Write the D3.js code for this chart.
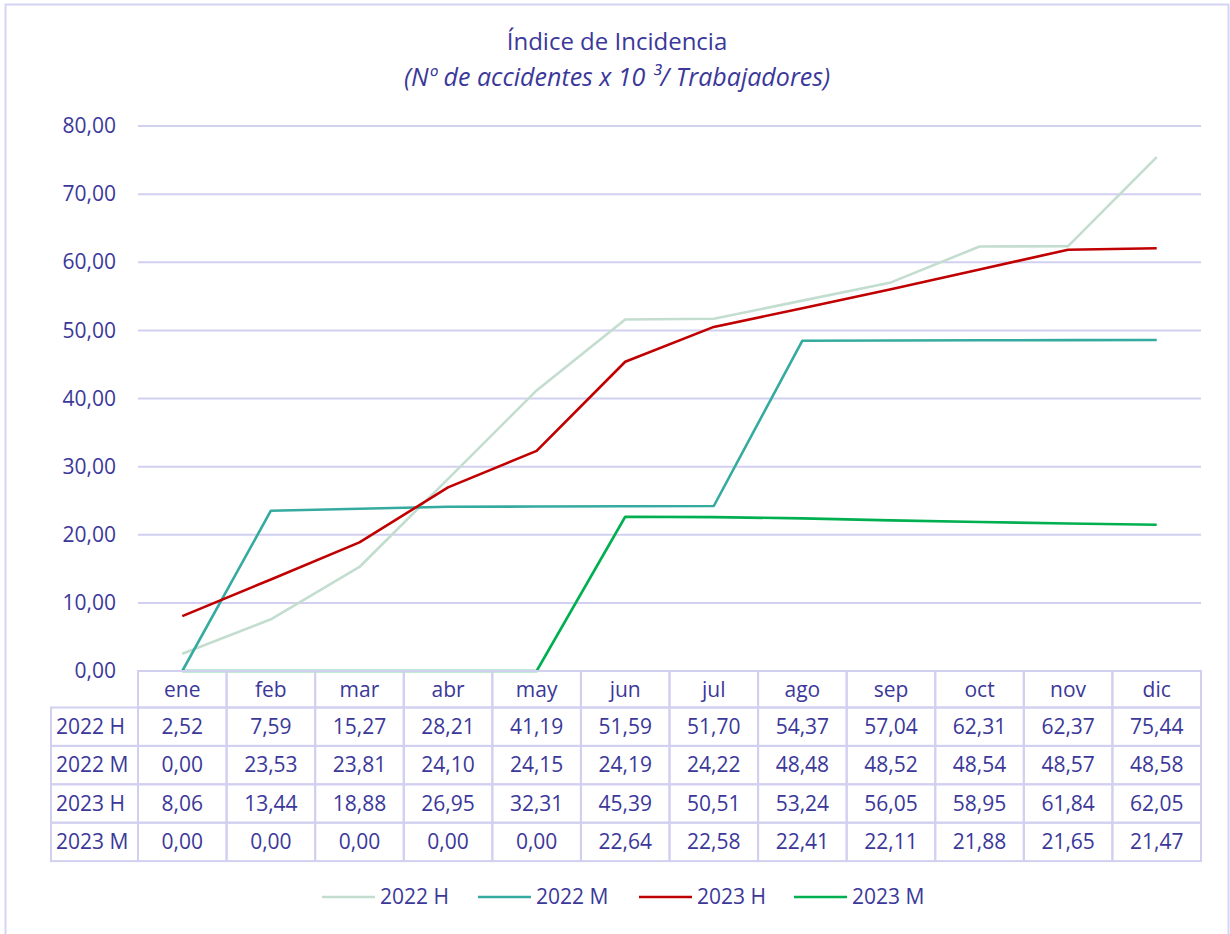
<!DOCTYPE html>
<html><head><meta charset="utf-8">
<script src="https://cdn.jsdelivr.net/npm/d3@7"></script>
<style>body{margin:0;background:#fff}svg{display:block}</style>
</head><body>
<svg id="c" width="1230" height="934"></svg>
<script>
const months = ["ene","feb","mar","abr","may","jun","jul","ago","sep","oct","nov","dic"];
const seriesNames = ["2022 H","2022 M","2023 H","2023 M"];
const s2022H = [2.52,7.59,15.27,28.21,41.19,51.59,51.70,54.37,57.04,62.31,62.37,75.44];
const s2022M = [0.00,23.53,23.81,24.10,24.15,24.19,24.22,48.48,48.52,48.54,48.57,48.58];
const s2023H = [8.06,13.44,18.88,26.95,32.31,45.39,50.51,53.24,56.05,58.95,61.84,62.05];
const s2023M = [0.00,0.00,0.00,0.00,0.00,22.64,22.58,22.41,22.11,21.88,21.65,21.47];
const yTicks = [0,10,20,30,40,50,60,70,80];
const colors = ["#C3DDCF","#35ABA0","#C00000","#00B050"];
const allSeries = [s2022H,s2022M,s2023H,s2023M];

const txt = "#3B3899", grid = "#D2D0F0";
const font = "'Open Sans', sans-serif";
const fs = 21;
const svg = d3.select("#c");
const fmt = v => d3.format(".2f")(v).replace(".", ",");

// outer border
svg.append("rect").attr("x",5.5).attr("y",4.5).attr("width",1223).attr("height",940)
  .attr("fill","none").attr("stroke","#D6D4F4").attr("stroke-width",2);

// title
svg.append("text").attr("x",617).attr("y",50).attr("text-anchor","middle")
  .attr("font-family",font).attr("font-size",24).attr("fill",txt).text("Índice de Incidencia");
svg.append("text").attr("x",617).attr("y",86).attr("text-anchor","middle")
  .attr("font-family",font).attr("font-size",25).attr("font-style","italic").attr("fill",txt)
  .text("(Nº de accidentes x 10 ³/ Trabajadores)");

const x = d3.scaleBand().domain(months).range([138,1201]).padding(0);
const y = d3.scaleLinear().domain([0,80]).range([671,126]);

// gridlines
svg.append("g").selectAll("line").data(yTicks).join("line")
  .attr("x1",138).attr("x2",1201).attr("y1",d=>y(d)).attr("y2",d=>y(d))
  .attr("stroke",grid).attr("stroke-width",2);

// y axis labels
const yAxis = d3.axisLeft(y).tickValues(yTicks).tickFormat(fmt).tickSize(0).tickPadding(0);
const gy = svg.append("g").attr("transform","translate(116,0)").call(yAxis);
gy.select(".domain").remove();
gy.selectAll("text").attr("font-family",font).attr("font-size",fs).attr("fill",txt);

// lines
const line = d3.line().x((d,i)=>x(months[i])+x.bandwidth()/2).y(d=>y(d));
svg.append("g").selectAll("path").data(allSeries).join("path")
  .attr("d",line).attr("fill","none").attr("stroke",(d,i)=>colors[i])
  .attr("stroke-width",2.6).attr("stroke-linejoin","round");

// data table
const headTop = 671, headH = 36.5, rowH = 38.4, labL = 51;
const tb = svg.append("g");
const bw = x.bandwidth();
tb.selectAll("rect.h").data(months).join("rect").attr("class","h")
  .attr("x",d=>x(d)).attr("y",headTop).attr("width",bw).attr("height",headH)
  .attr("fill","none").attr("stroke",grid).attr("stroke-width",2);
tb.selectAll("text.h").data(months).join("text").attr("class","h")
  .attr("x",d=>x(d)+bw/2).attr("y",headTop+headH/2).attr("dy","0.35em")
  .attr("text-anchor","middle").attr("font-family",font).attr("font-size",fs).attr("fill",txt).text(d=>d);
seriesNames.forEach((name,r)=>{
  const top = headTop+headH+r*rowH;
  tb.append("rect").attr("x",labL).attr("y",top).attr("width",138-labL).attr("height",rowH)
    .attr("fill","none").attr("stroke",grid).attr("stroke-width",2);
  tb.append("text").attr("x",labL+5).attr("y",top+rowH/2).attr("dy","0.35em")
    .attr("font-family",font).attr("font-size",fs).attr("fill",txt).text(name);
  const g = tb.append("g");
  g.selectAll("rect").data(allSeries[r]).join("rect")
    .attr("x",(d,i)=>x(months[i])).attr("y",top).attr("width",bw).attr("height",rowH)
    .attr("fill","none").attr("stroke",grid).attr("stroke-width",2);
  g.selectAll("text").data(allSeries[r]).join("text")
    .attr("x",(d,i)=>x(months[i])+bw/2).attr("y",top+rowH/2).attr("dy","0.35em")
    .attr("text-anchor","middle").attr("font-family",font).attr("font-size",fs).attr("fill",txt).text(fmt);
});

// legend
const legX = [322,478,639,794];
const lg = svg.append("g");
seriesNames.forEach((n,i)=>{
  lg.append("line").attr("x1",legX[i]).attr("x2",legX[i]+53).attr("y1",897).attr("y2",897)
    .attr("stroke",colors[i]).attr("stroke-width",2.6);
  lg.append("text").attr("x",legX[i]+58).attr("y",897).attr("dy","0.35em")
    .attr("font-family",font).attr("font-size",fs).attr("fill",txt).text(n);
});
</script>
</body></html>
